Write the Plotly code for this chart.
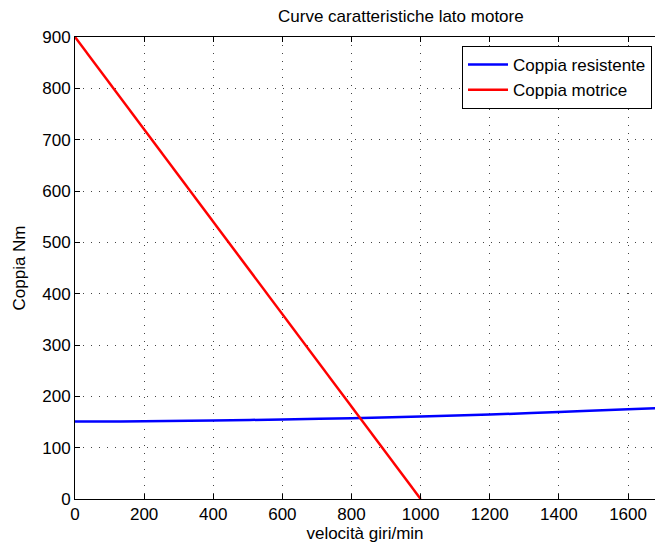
import plotly.graph_objects as go

speed_res = [0, 100, 200, 400, 600, 800, 1000, 1200, 1400, 1600, 1680]
torque_res = [151, 151, 151.5, 153, 155, 157.5, 160.5, 164.5, 169.5, 175, 177]
speed_mot = [0, 1000]
torque_mot = [900, 0]

x_ticks = [0, 200, 400, 600, 800, 1000, 1200, 1400, 1600]
y_ticks = [0, 100, 200, 300, 400, 500, 600, 700, 800, 900]

fig = go.Figure()
fig.add_trace(go.Scatter(x=speed_res, y=torque_res, mode="lines", name="Coppia resistente",
                         line=dict(color="#0000ff", width=2.5, shape="spline")))
fig.add_trace(go.Scatter(x=speed_mot, y=torque_mot, mode="lines", name="Coppia motrice",
                         line=dict(color="#ff0000", width=2.5)))

font = "Liberation Sans, Arial, sans-serif"
grid_dash = "1px,7px"
grid_color = "#444444"
fs = 17
fig.update_layout(
    width=655, height=549,
    margin=dict(l=75, r=0, t=37, b=50),
    paper_bgcolor="white", plot_bgcolor="white",
    font=dict(family=font, size=fs, color="black"),
    title=dict(text="Curve caratteristiche lato motore", x=368 / 655, xanchor="center",
               xref="paper", y=1 - 16 / 549, yanchor="middle",
               font=dict(size=17, family=font)),
    showlegend=True,
    legend=dict(x=(652 - 75) / 580, xanchor="right", y=(499 - 46) / 462, yanchor="top",
                bgcolor="white", bordercolor="black", borderwidth=1,
                font=dict(size=fs, family=font), tracegroupgap=0, itemwidth=40),
    xaxis=dict(range=[0, 1678], tickvals=x_ticks, ticks="inside", ticklen=5,
               tickcolor="black", showline=True, linecolor="black", linewidth=1,
               mirror="ticks", showgrid=True, gridcolor=grid_color, griddash=grid_dash,
               gridwidth=1, zeroline=False, tickfont=dict(size=fs),
               title=dict(text="velocità giri/min", font=dict(size=fs), standoff=2)),
    yaxis=dict(range=[0, 900], tickvals=y_ticks, ticks="inside", ticklen=5,
               tickcolor="black", showline=True, linecolor="black", linewidth=1,
               showgrid=True, gridcolor=grid_color, griddash=grid_dash,
               gridwidth=1, zeroline=False, tickfont=dict(size=fs),
               title=dict(text="Coppia Nm", font=dict(size=fs), standoff=12)),
)
fig.write_html("out.html", config={"displayModeBar": False},
               post_script="document.body.style.margin='0';document.body.style.overflow='hidden';")
